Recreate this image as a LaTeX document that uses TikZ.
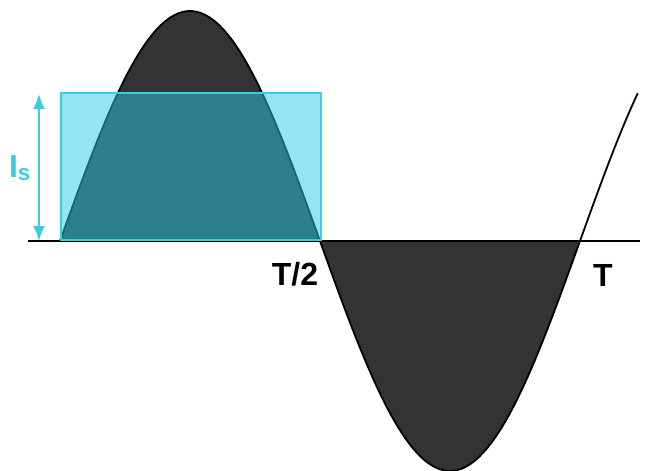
\documentclass[tikz,border=0pt]{standalone}
\usepackage{fontspec}
\setmainfont{Liberation Sans}
\usetikzlibrary{arrows.meta}
\definecolor{wavefill}{HTML}{333333}
\definecolor{cyanline}{RGB}{58,206,224}
\definecolor{cyanfill}{RGB}{40,205,225}

\begin{document}
\begin{tikzpicture}[x=1pt, y=1pt,
  wave/.style={draw=black, line width=1.8pt, fill=wavefill},
  curve/.style={black, line width=1.8pt},
  lbl/.style={font=\fontsize{32}{36}\selectfont\bfseries, inner sep=0pt},
  rms/.style={draw=cyanline, line width=1.6pt, fill=cyanfill, fill opacity=0.5, inner sep=0pt},
  arr/.style={{Latex[length=15pt,width=12pt]}-{Latex[length=15pt,width=12pt]}, cyanline, line width=2pt}
]
\useasboundingbox (-60,-230) rectangle (585,241);

% half waves
\draw[wave] plot[domain=0:180, samples=60] ({\x/360*520},{230*sin(\x)}) -- cycle;
\draw[wave] plot[domain=180:360, samples=60] ({\x/360*520},{230*sin(\x)}) -- cycle;
\draw[curve] plot[domain=360:400, samples=15] ({\x/360*520},{230*sin(\x)});

% time axis
\coordinate (axL) at (-32,0);
\coordinate (axR) at (580,0);
\draw[black, line width=1.4pt] (axL) -- (axR);

% equivalent square current
\node[rms, minimum width=260pt, minimum height=147pt, anchor=south west] (rect) at (0,0) {};

\coordinate (abot) at (-21,0);
\coordinate (atop) at (-21,147);
\draw[arr] (abot) -- (atop);

\node[lbl] (halfT) at (235,-33) {T/2};
\node[lbl] (fullT) at (543,-34) {T};
\node[lbl, text=cyanline] (Is) at (-40,73) {I\textsubscript{s}};

\end{tikzpicture}
\end{document}
